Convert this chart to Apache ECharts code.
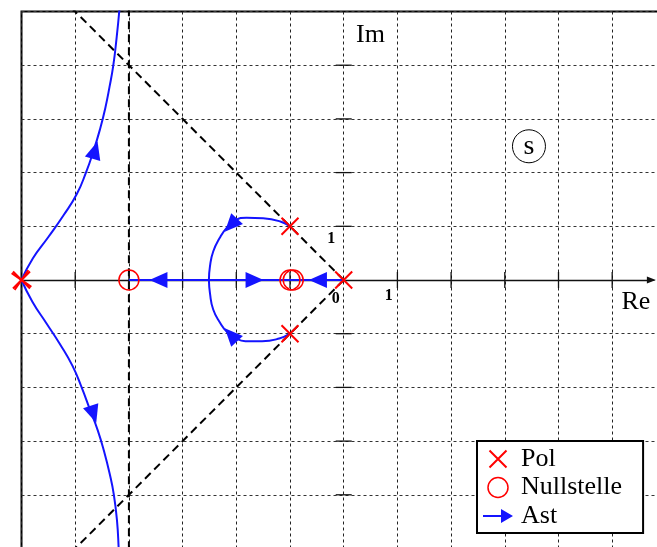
<!DOCTYPE html>
<html>
<head>
<meta charset="utf-8">
<script src="https://cdn.jsdelivr.net/npm/echarts@6/dist/echarts.min.js"></script>
<style>
  html, body { margin: 0; padding: 0; background: #fff; }
  #chart { width: 657px; height: 547px; }
</style>
</head>
<body>
<div id="chart"></div>
<script>
// Wurzelortskurve: Pole, Nullstellen und Äste in der s-Ebene

// Achsenbereich und Ticks
const reRange = [-6, 6];
const imRange = [-5, 5];
const reTicks = [-5, -4, -3, -2, -1, 1, 2, 3, 4, 5];
const imTicks = [-4, -3, -2, -1, 1, 2, 3, 4];

// Pole (doppelter Pol bei -6) und Nullstellen (doppelte Nullstelle bei -1)
const poles = [[0, 0], [-1, 1], [-1, -1], [-6, 0], [-6, 0]];
const zeros = [[-4, 0], [-1, 0], [-0.94, 0]];

// Äste auf der reellen Achse
const branchReal0 = [[0, 0], [-1, 0]];
const branchRealMid = [[-2.5, 0], [-1, 0]];
const branchRealLeft = [[-2.5, 0], [-4, 0]];

// Äste vom konjugiert komplexen Polpaar zum Eintrittspunkt
const branchArcUpper = [[-1, 1], [-1.18, 1.09], [-1.5, 1.15], [-1.81, 1.16], [-2.02, 1.11],
  [-2.18, 0.97], [-2.31, 0.78], [-2.43, 0.53], [-2.49, 0.26], [-2.51, 0]];
const branchArcLower = [[-1, -1], [-1.2, -1.09], [-1.52, -1.14], [-1.83, -1.14], [-2.02, -1.08],
  [-2.18, -0.96], [-2.3, -0.8], [-2.43, -0.55], [-2.49, -0.25], [-2.51, 0]];

// Äste vom Doppelpol bei -6 zur Asymptote Re = -4
const branchOuterUpper = [[-6, 0], [-5.79, 0.4], [-5.5, 0.8], [-5.22, 1.2], [-4.97, 1.6],
  [-4.8, 2.0], [-4.66, 2.4], [-4.54, 2.8], [-4.44, 3.2], [-4.36, 3.6], [-4.29, 4.0],
  [-4.23, 4.5], [-4.18, 5.0], [-4.15, 5.4]];
const branchOuterLower = [[-6, 0], [-5.8, -0.4], [-5.54, -0.8], [-5.28, -1.2], [-5.05, -1.6],
  [-4.88, -2.0], [-4.73, -2.4], [-4.58, -2.8], [-4.46, -3.2], [-4.36, -3.6], [-4.28, -4.0],
  [-4.22, -4.5], [-4.19, -5.0], [-4.17, -5.4]];

// Richtungspfeile: [Re, Im, Richtung in Grad]
const branchArrows = [[-0.48, 0, 180], [-1.66, 0, 0], [-3.45, 0, 180],
  [-2.1, 1.02, 227], [-2.1, -1.02, 133], [-4.63, 2.42, 74], [-4.66, -2.5, -72]];

// Hilfslinien: Asymptote und 45°-Geraden
const asymptote = [[-4, -5.5], [-4, 5.5]];
const diagUpper = [[0, 0], [-6, 6]];
const diagLower = [[0, 0], [-6, -6]];

const BLUE = '#1414ff';
const RED = '#ff0000';
const SERIF = 'Liberation Serif, Times New Roman, serif';

function branchSeries(data, smooth) {
  return {
    name: 'Ast', type: 'line', data: data, smooth: smooth ? 0.5 : false,
    showSymbol: false, symbol: 'none', silent: true, z: 5,
    lineStyle: { color: BLUE, width: 2, opacity: 1 }, itemStyle: { color: BLUE }
  };
}

function dashedSeries(data) {
  return {
    type: 'line', data: data, showSymbol: false, symbol: 'none', silent: true, z: 3,
    lineStyle: { color: '#000', width: 2, type: [8, 5] }
  };
}

const annotations = [
  { value: [0.23, 4.55], text: 'Im', size: 26, weight: 'normal', align: 'left' },
  { value: [5.44, -0.41], text: 'Re', size: 26, weight: 'normal', align: 'center' },
  { value: [-0.23, 0.76], text: '1', size: 16, weight: 'bold', align: 'center' },
  { value: [-0.15, -0.35], text: '0', size: 16, weight: 'bold', align: 'center' },
  { value: [0.84, -0.3], text: '1', size: 16, weight: 'bold', align: 'center' }
];

const chart = echarts.init(document.getElementById('chart'), null, { renderer: 'canvas' });

const option = {
  animation: false,
  backgroundColor: '#fff',
  grid: {
    left: 21.5, top: 11.5, width: 644.4, height: 537,
    show: true, borderColor: '#000', borderWidth: 2, backgroundColor: 'transparent',
    outerBoundsMode: 'none', containLabel: false
  },
  xAxis: {
    type: 'value', min: reRange[0], max: reRange[1], interval: 1,
    axisLine: { show: false }, axisTick: { show: false }, axisLabel: { show: false },
    splitLine: { show: true, lineStyle: { color: '#222', width: 1, type: [3, 3] } }
  },
  yAxis: {
    type: 'value', min: imRange[0], max: imRange[1], interval: 1,
    axisLine: { show: false }, axisTick: { show: false }, axisLabel: { show: false },
    splitLine: { show: true, lineStyle: { color: '#333', width: 1, type: [3, 3] } }
  },
  legend: {
    data: [
      { name: 'Pol', icon: 'path://M0,0M30,20M6.5,1.5L23.5,18.5M23.5,1.5L6.5,18.5',
        itemStyle: { color: 'rgba(0,0,0,0)', borderColor: RED, borderWidth: 2, opacity: 1 } },
      { name: 'Nullstelle', icon: 'path://M0,0M30,20M25,10A10,10,0,1,1,5,10A10,10,0,1,1,25,10Z',
        itemStyle: { color: 'rgba(0,0,0,0)', borderColor: RED, borderWidth: 1.5, opacity: 1 } },
      { name: 'Ast', icon: 'path://M0,0M30,20M0,9L18,9L18,3L30,10L18,17L18,11L0,11Z',
        itemStyle: { color: BLUE, borderWidth: 0, opacity: 1 } }
    ],
    orient: 'vertical', left: 477, top: 441,
    itemWidth: 30, itemHeight: 20, itemGap: 2.5,
    padding: [5, 21, 4, 5],
    borderColor: '#000', borderWidth: 2, backgroundColor: '#fff',
    selectedMode: false,
    textStyle: { fontFamily: SERIF, fontSize: 26, color: '#000', padding: [0, 0, 0, 3] }
  },
  series: [
    dashedSeries(asymptote),
    dashedSeries(diagUpper),
    dashedSeries(diagLower),
    {
      // Koordinatenachsen mit Pfeilspitzen
      type: 'line', data: [], silent: true, z: 4,
      markLine: {
        silent: true, symbol: ['none', 'triangle'], symbolSize: [7, 9],
        label: { show: false }, emphasis: { disabled: true },
        lineStyle: { color: '#111', width: 1.3, type: 'solid' },
        data: [
          [{ coord: [reRange[0], 0] }, { coord: [5.73, 0] }],
          [{ coord: [0, imRange[0] - 0.2] }, { coord: [0, 4.89] }]
        ]
      }
    },
    {
      // Teilstriche auf der Re-Achse
      type: 'scatter', silent: true, z: 4, symbol: 'rect', symbolSize: [1.3, 16],
      itemStyle: { color: '#111', opacity: 1 }, data: reTicks.map(v => [v, 0])
    },
    {
      // Teilstriche auf der Im-Achse
      type: 'scatter', silent: true, z: 4, symbol: 'rect', symbolSize: [16, 1.3],
      itemStyle: { color: '#111', opacity: 1 }, data: imTicks.map(v => [0, v])
    },
    branchSeries(branchReal0, false),
    branchSeries(branchRealMid, false),
    branchSeries(branchRealLeft, false),
    branchSeries(branchArcUpper, true),
    branchSeries(branchArcLower, true),
    branchSeries(branchOuterUpper, true),
    branchSeries(branchOuterLower, true),
    {
      name: 'Astrichtung', type: 'scatter', silent: true, z: 6,
      symbol: 'triangle', symbolSize: [16, 18],
      itemStyle: { color: BLUE, opacity: 1 },
      data: branchArrows.map(a => ({ value: [a[0], a[1]], symbolRotate: a[2] - 90 }))
    },
    {
      name: 'Nullstelle', type: 'scatter', silent: true, z: 7,
      symbol: 'circle', symbolSize: 20,
      itemStyle: { color: 'rgba(255,255,255,0)', borderColor: RED, borderWidth: 1.5, opacity: 1 },
      data: zeros
    },
    {
      name: 'Pol', type: 'scatter', silent: true, z: 8,
      symbol: 'path://M0,0L10,10M10,0L0,10', symbolSize: 17,
      itemStyle: { color: 'rgba(0,0,0,0)', borderColor: RED, borderWidth: 2, opacity: 1 },
      data: poles.map((p, i) => ({
        value: p,
        symbolRotate: poles.slice(0, i).some(q => q[0] === p[0] && q[1] === p[1]) ? 10 : 0
      }))
    },
    {
      // s-Ebene Kennzeichnung
      type: 'scatter', silent: true, z: 6, symbol: 'circle', symbolSize: 33,
      itemStyle: { color: 'rgba(255,255,255,0)', borderColor: '#000', borderWidth: 1, opacity: 1 },
      label: { show: true, position: 'inside', formatter: 's',
        fontFamily: SERIF, fontSize: 28, color: '#000', opacity: 1 },
      data: [[3.45, 2.49]]
    },
    {
      // Achsenbeschriftungen
      type: 'scatter', silent: true, z: 9, symbol: 'circle', symbolSize: 1,
      itemStyle: { color: 'rgba(0,0,0,0)', opacity: 1 },
      data: annotations.map(a => ({
        value: a.value,
        label: { show: true, position: 'inside', formatter: a.text, align: a.align,
          verticalAlign: 'middle', fontFamily: SERIF, fontSize: a.size,
          fontWeight: a.weight, color: '#000', opacity: 1 }
      }))
    }
  ]
};

chart.setOption(option);
</script>
</body>
</html>
